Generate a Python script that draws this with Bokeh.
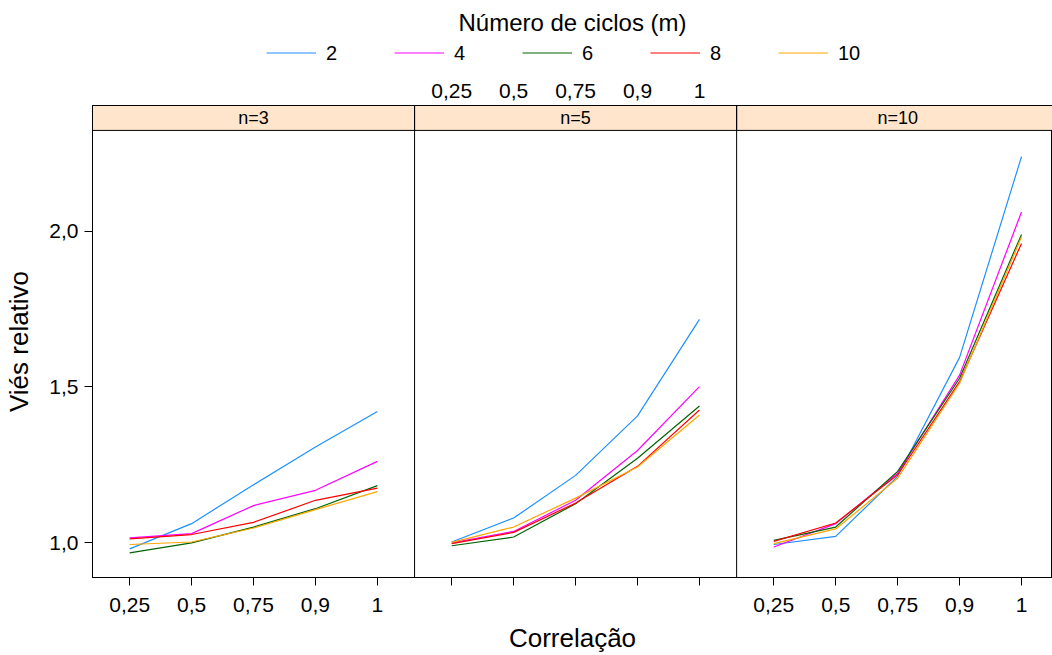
from bokeh.plotting import figure
from bokeh.layouts import column
from bokeh.models import (Range1d, FixedTicker, LinearAxis, Legend, LegendItem,
                          Span, Title, ColumnDataSource)
from bokeh.core.properties import value
from bokeh.embed import file_html
from bokeh.resources import INLINE

# ---------------- data ----------------
correlacao = ["0,25", "0,5", "0,75", "0,9", "1"]
paineis = ["n=3", "n=5", "n=10"]
ciclos = ["2", "4", "6", "8", "10"]
cores = ["#1E90FF", "#FF00FF", "#006400", "#FF0000", "#FFA500"]

# relative bias per panel (n), per number of cycles (m), across correlations
vies_n3 = {
    "2":  [0.980, 1.061, 1.186, 1.307, 1.421],
    "4":  [1.015, 1.029, 1.119, 1.168, 1.261],
    "6":  [0.967, 0.999, 1.050, 1.109, 1.183],
    "8":  [1.012, 1.026, 1.065, 1.136, 1.175],
    "10": [0.994, 1.002, 1.047, 1.106, 1.164],
}
vies_n5 = {
    "2":  [1.002, 1.079, 1.216, 1.407, 1.717],
    "4":  [0.999, 1.036, 1.136, 1.296, 1.501],
    "6":  [0.990, 1.018, 1.125, 1.271, 1.439],
    "8":  [0.997, 1.033, 1.127, 1.245, 1.426],
    "10": [1.001, 1.050, 1.143, 1.243, 1.410],
}
vies_n10 = {
    "2":  [0.994, 1.020, 1.213, 1.595, 2.240],
    "4":  [0.986, 1.061, 1.223, 1.538, 2.062],
    "6":  [1.007, 1.050, 1.229, 1.528, 1.990],
    "8":  [1.004, 1.063, 1.218, 1.517, 1.961],
    "10": [0.997, 1.044, 1.207, 1.512, 1.982],
}
vies = [vies_n3, vies_n5, vies_n10]

y_ticks = [1.0, 1.5, 2.0]
y_labels = ["1,0", "1,5", "2,0"]

# ---------------- layout helpers ----------------
FONT = "Liberation Sans"
TICK_FS = "21px"
LAB_FS = "26px"
STEP = 5          # spacing between categories (x units)
PANEL = 26        # width of one panel (x units)
Y_LO, Y_HI = 0.888, 2.324
STRIP = 0.080

def xpos(p, i):
    return p * PANEL + STEP * (i + 1)

p = figure(width=1052, height=582, output_backend="svg", toolbar_location=None,
           x_range=Range1d(2, 3 * PANEL + 1.5), y_range=Range1d(Y_LO, Y_HI + STRIP),
           min_border_left=92, min_border_right=0, min_border_bottom=77,
           min_border_top=32, x_axis_type=None, y_axis_type=None)
p.outline_line_color = "black"
p.outline_line_width = 1
p.background_fill_color = "white"
p.border_fill_color = "white"
p.ygrid.visible = False

# bottom axis
all_ticks = [xpos(k, i) for k in range(3) for i in range(len(correlacao))]
overrides = {}
for k in range(3):
    for i, lab in enumerate(correlacao):
        overrides[xpos(k, i)] = "" if k == 1 else lab
xb = LinearAxis(ticker=FixedTicker(ticks=all_ticks), major_label_overrides=overrides,
                axis_label="Correlação")
xb.major_tick_out = 8
xb.major_tick_in = 0
xb.minor_tick_out = 0
xb.major_label_standoff = 12
xb.axis_label_standoff = 8
xb.major_label_text_font = FONT
xb.major_label_text_font_size = TICK_FS
xb.major_label_text_color = "black"
xb.axis_label_text_font = FONT
xb.axis_label_text_font_size = LAB_FS
xb.axis_label_text_font_style = "normal"
xb.axis_label_text_color = "black"
xb.axis_line_color = "black"
xb.major_tick_line_color = "black"
p.add_layout(xb, "below")

# left axis
yl = LinearAxis(ticker=FixedTicker(ticks=y_ticks),
                major_label_overrides={t: l for t, l in zip(y_ticks, y_labels)},
                axis_label="Viés relativo")
yl.major_tick_out = 8
yl.major_tick_in = 0
yl.minor_tick_out = 0
yl.major_label_standoff = 6
yl.axis_label_standoff = 12
yl.major_label_text_font = FONT
yl.major_label_text_font_size = TICK_FS
yl.major_label_text_color = "black"
yl.axis_label_text_font = FONT
yl.axis_label_text_font_size = LAB_FS
yl.axis_label_text_font_style = "normal"
yl.axis_label_text_color = "black"
yl.axis_line_color = "black"
yl.major_tick_line_color = "black"
p.add_layout(yl, "left")

# top axis (middle panel only)
mid_ticks = [xpos(1, i) for i in range(len(correlacao))]
xt = LinearAxis(ticker=FixedTicker(ticks=mid_ticks),
                major_label_overrides={t: l for t, l in zip(mid_ticks, correlacao)})
xt.major_tick_out = 0
xt.major_tick_in = 0
xt.minor_tick_out = 0
xt.major_label_standoff = 8
xt.major_label_text_font = FONT
xt.major_label_text_font_size = TICK_FS
xt.major_label_text_color = "black"
xt.axis_line_color = "black"
p.add_layout(xt, "above")

# vertical grid
p.xgrid.ticker = FixedTicker(ticks=all_ticks)
p.xgrid.grid_line_color = "#e6e6e6"
p.xgrid.grid_line_width = 1

# series
for k in range(3):
    for m, c in zip(ciclos, cores):
        xs = [xpos(k, i) for i in range(len(correlacao))]
        p.line(xs, vies[k][m], line_color=c, line_width=1.2)

# strips
strip_src = ColumnDataSource(dict(
    left=[k * PANEL + 2 for k in range(3)],
    right=[(k + 1) * PANEL + 2 for k in range(3)],
    cx=[k * PANEL + 2 + PANEL / 2 for k in range(3)],
    lab=paineis,
))
p.quad(left="left", right="right", bottom=Y_HI, top=Y_HI + STRIP, source=strip_src,
       fill_color="#FFE5CC", line_color="black", line_width=1)
p.text(x="cx", y=Y_HI + STRIP / 2, text="lab", source=strip_src,
       text_align="center", text_baseline="middle",
       text_font=value(FONT), text_font_size="18px", text_color="black")

# panel separators
for k in (1, 2):
    p.add_layout(Span(location=k * PANEL + 2, dimension="height",
                      line_color="black", line_width=1))

# ---------------- key (legend) strip on top ----------------
lg = figure(width=1052, height=73, output_backend="svg", toolbar_location=None,
            x_range=Range1d(0, 1), y_range=Range1d(0, 1),
            x_axis_type=None, y_axis_type=None,
            min_border_left=0, min_border_right=0, min_border_top=37,
            min_border_bottom=5)
lg.outline_line_color = None
lg.xgrid.visible = False
lg.ygrid.visible = False
key_renderers = []
for m, c in zip(ciclos, cores):
    r = lg.line([xpos(0, i) for i in range(len(correlacao))], vies[0][m],
                line_color=c, line_width=1.2)
    r.visible = False  # only used as legend key
    key_renderers.append(r)
legend_items = [LegendItem(label=m, renderers=[r]) for m, r in zip(ciclos, key_renderers)]
leg = Legend(items=legend_items, orientation="horizontal", location="center",
             glyph_width=50, glyph_height=20, label_standoff=10, label_width=40,
             spacing=28, padding=4, margin=0, border_line_color=None,
             background_fill_alpha=0, click_policy="none",
             label_text_font=FONT, label_text_font_size="20px",
             label_text_color="black")
lg.add_layout(leg, "center")
lg.add_layout(Title(text="Número de ciclos (m)", align="center", standoff=3,
                    text_font=FONT, text_font_size="24px",
                    text_font_style="normal", text_color="black"), "above")

layout = column(lg, p, spacing=0)
open("out.html", "w").write(file_html(layout, INLINE))
